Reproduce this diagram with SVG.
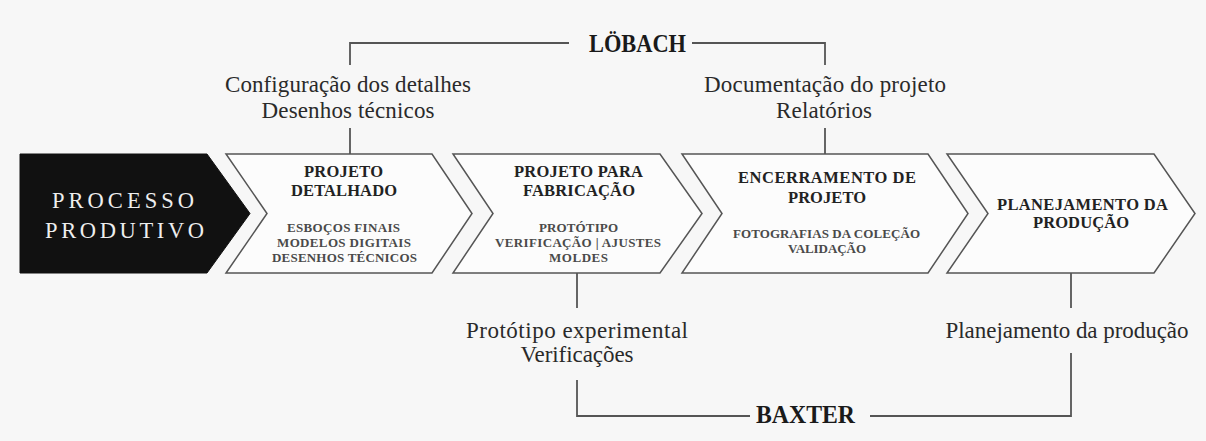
<svg xmlns="http://www.w3.org/2000/svg" width="1206" height="441" viewBox="0 0 1206 441">
<style>
.bg{fill:#f7f7f7}
.chev{fill:#fcfcfc;stroke:#555;stroke-width:1.5;stroke-linejoin:miter}
.dark{fill:#111;stroke:#111;stroke-width:1}
.ln{fill:none;stroke:#555;stroke-width:1.8}
.side{font-family:"Liberation Serif",serif;font-size:23px;fill:#2a2a2a;text-anchor:middle}
.ttl{font-family:"Liberation Serif",serif;font-size:25px;font-weight:bold;fill:#1a1a1a}
.head{font-family:"Liberation Serif",serif;font-size:16.5px;font-weight:bold;fill:#222}
.sub{font-family:"Liberation Serif",serif;font-size:13px;font-weight:bold;fill:#4a4a4a}
.big{font-family:"Liberation Serif",serif;font-size:22.5px;fill:#eeeeee}
</style>
<rect class="bg" x="0" y="0" width="1206" height="441"/>
<g id="connectors">
<path class="ln" d="M350,65 V43 H569"/>
<path class="ln" d="M692,43 H825 V65"/>
<path class="ln" d="M350,128 V154"/>
<path class="ln" d="M825,128 V154"/>
<path class="ln" d="M577,273 V308"/>
<path class="ln" d="M577,380 V416 H750"/>
<path class="ln" d="M870,416 H1071 V353"/>
<path class="ln" d="M1071,273 V308"/>
</g>
<g id="lobach">
<text class="ttl" x="589" y="52" textLength="97" lengthAdjust="spacingAndGlyphs">LÖBACH</text>
</g>
<g id="baxter">
<text class="ttl" x="756" y="423" textLength="99" lengthAdjust="spacingAndGlyphs">BAXTER</text>
</g>
<g id="label-configuracao">
<text class="side" x="348" y="92" textLength="246">Configuração dos detalhes</text>
<text class="side" x="348" y="118" textLength="173">Desenhos técnicos</text>
</g>
<g id="label-documentacao">
<text class="side" x="825" y="92" textLength="242">Documentação do projeto</text>
<text class="side" x="824" y="118" textLength="96">Relatórios</text>
</g>
<g id="label-prototipo">
<text class="side" x="577" y="338" textLength="222">Protótipo experimental</text>
<text class="side" x="577" y="362" textLength="113">Verificações</text>
</g>
<g id="label-planejamento">
<text class="side" x="1067" y="338" textLength="243">Planejamento da produção</text>
</g>
<g id="processo-produtivo">
<polygon class="dark" points="20,154 207,154 250,213.5 207,273 20,273"/>
<text class="big" x="52" y="208" textLength="142">PROCESSO</text>
<text class="big" x="45" y="238" textLength="159">PRODUTIVO</text>
</g>
<g id="projeto-detalhado">
<polygon class="chev" points="226,154 432,154 472,213.5 432,273 226,273 267,213.5"/>
<text class="head" x="304" y="177" textLength="79">PROJETO</text>
<text class="head" x="291" y="196" textLength="106">DETALHADO</text>
<text class="sub" x="287" y="232" textLength="113">ESBOÇOS FINAIS</text>
<text class="sub" x="277" y="247" textLength="134">MODELOS DIGITAIS</text>
<text class="sub" x="272" y="262" textLength="145">DESENHOS TÉCNICOS</text>
</g>
<g id="projeto-fabricacao">
<polygon class="chev" points="453,154 660,154 702,213.5 660,273 453,273 493,213.5"/>
<text class="head" x="514" y="177" textLength="129">PROJETO PARA</text>
<text class="head" x="523" y="196" textLength="112">FABRICAÇÃO</text>
<text class="sub" x="539" y="232" textLength="79">PROTÓTIPO</text>
<text class="sub" x="495" y="247" textLength="166">VERIFICAÇÃO | AJUSTES</text>
<text class="sub" x="549" y="262" textLength="59">MOLDES</text>
</g>
<g id="encerramento">
<polygon class="chev" points="682,154 928,154 968,213.5 928,273 682,273 722,213.5"/>
<text class="head" x="738" y="183" textLength="178">ENCERRAMENTO DE</text>
<text class="head" x="788" y="203" textLength="78">PROJETO</text>
<text class="sub" x="733" y="238" textLength="187">FOTOGRAFIAS DA COLEÇÃO</text>
<text class="sub" x="788" y="253" textLength="78">VALIDAÇÃO</text>
</g>
<g id="planejamento">
<polygon class="chev" points="947,154 1154,154 1195,213.5 1154,273 947,273 988,213.5"/>
<text class="head" x="997" y="210" textLength="171">PLANEJAMENTO DA</text>
<text class="head" x="1033" y="228" textLength="96">PRODUÇÃO</text>
</g>
</svg>
